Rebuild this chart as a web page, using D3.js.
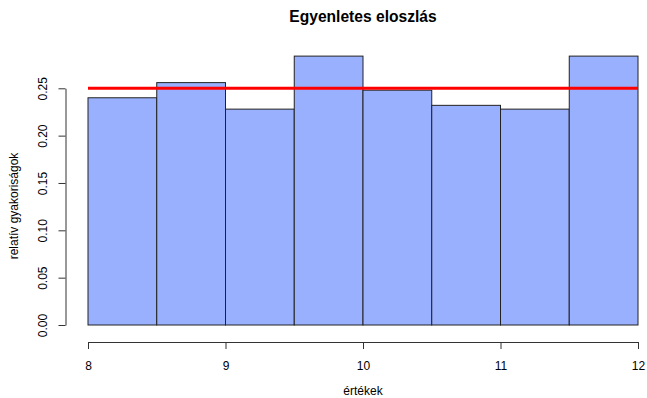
<!DOCTYPE html>
<html><head><meta charset="utf-8">
<script src="https://cdn.jsdelivr.net/npm/d3@7"></script>
<style>body{margin:0;background:#fff}svg{display:block}text{font-family:"Liberation Sans",Arial,sans-serif}</style>
</head><body><svg id="c" width="647" height="398"></svg>
<script>
const binStarts = [8, 8.5, 9, 9.5, 10, 10.5, 11, 11.5];
const binWidth = 0.5;
const densities = [0.240, 0.256, 0.228, 0.284, 0.248, 0.232, 0.228, 0.284];
const xTicks = [8, 9, 10, 11, 12];
const yTicks = [0, 0.05, 0.10, 0.15, 0.20, 0.25];
const refLevel = 0.25;
const title = "Egyenletes eloszlás";
const xLabel = "értékek";
const yLabel = "relatív gyakoriságok";

const svg = d3.select("#c");
const x = d3.scaleLinear().domain([8, 12]).range([88, 638]);
const y = d3.scaleLinear().domain([0, 0.25]).range([325, 88.3]);

svg.selectAll("rect.bar").data(binStarts).enter().append("rect")
  .attr("class","bar")
  .attr("x", d => x(d)).attr("width", d => x(d+binWidth)-x(d))
  .attr("y", (d,i) => y(densities[i])).attr("height", (d,i) => y(0)-y(densities[i]))
  .attr("fill", "#99B0FF").attr("stroke", "#222").attr("stroke-width", 1);

svg.append("line").attr("x1", x(8)).attr("x2", x(12))
  .attr("y1", y(refLevel)).attr("y2", y(refLevel))
  .attr("stroke", "#f00").attr("stroke-width", 3);

// x axis
const xa = svg.append("g").attr("transform","translate(0,342)")
  .call(d3.axisBottom(x).tickValues(xTicks).tickFormat(d3.format("d")).tickSize(7).tickSizeOuter(0));
xa.select(".domain").attr("stroke","#333");
xa.selectAll(".tick line").attr("stroke","#333");
xa.selectAll(".tick text").attr("font-size",12).attr("fill","#000").attr("dy",null).attr("y",28);

// y axis
const ya = svg.append("g").attr("transform","translate(65.5,0)")
  .call(d3.axisLeft(y).tickValues(yTicks).tickFormat(d3.format(".2f")).tickSize(7).tickSizeOuter(0));
ya.select(".domain").attr("stroke","#333");
ya.selectAll(".tick line").attr("stroke","#333");
ya.selectAll(".tick text").attr("font-size",12).attr("fill","#000")
  .attr("x",null).attr("dy",null).attr("text-anchor","middle")
  .attr("transform","translate(-19,0) rotate(-90)");

svg.append("text").attr("x", 363).attr("y", 22).attr("text-anchor","middle")
  .attr("font-size",15.6).attr("font-weight","bold").text(title);
svg.append("text").attr("x", 363).attr("y", 395).attr("text-anchor","middle")
  .attr("font-size",12).text(xLabel);
svg.append("text").attr("transform","translate(18,206) rotate(-90)").attr("text-anchor","middle")
  .attr("font-size",12).text(yLabel);
</script></body></html>
